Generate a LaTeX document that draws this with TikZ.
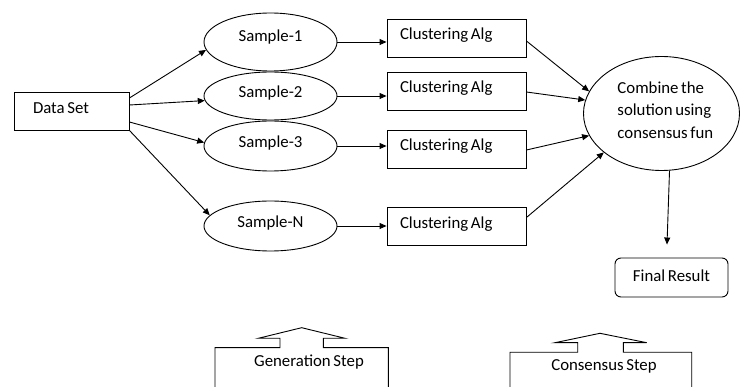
\documentclass[tikz,border=0pt]{standalone}
\usepackage{fontspec}
\setmainfont{Carlito}
\usetikzlibrary{shapes.geometric,arrows.meta}
\newcommand\diagfont{\fontsize{16.8}{19}\selectfont\spaceskip=0.16em plus 0.05em\relax}
\newcommand\diagfontwide{\fontsize{16.8}{22.5}\selectfont\spaceskip=0.16em plus 0.05em\relax}
\newcommand\tightspace{\spaceskip=0.16em plus 0.05em\relax}

\begin{document}
\begin{tikzpicture}[x=1pt,y=-1pt,line width=0.9pt,
  every node/.style={font=\diagfont},
  box/.style={draw,rectangle,inner ysep=0pt,align=left,text height=12pt,text depth=8pt,
    execute at begin node=\tightspace},
  samp/.style={draw,ellipse,inner sep=0pt,minimum width=133pt,text height=12pt,text depth=9pt},
  arr/.style={-{Triangle[length=7pt,width=6pt]}}]
\useasboundingbox (0,0) rectangle (740,387);

% input
\node[box,text width=77pt,inner xsep=19pt,minimum height=38pt,text depth=7.6pt] (ds) at (71.5,111) {Data Set};

% samples
\node[samp,minimum height=58pt,text depth=13pt] (s1) at (270.5,42) {Sample-1};
\node[samp,minimum height=48pt] (s2) at (270.5,96) {Sample-2};
\node[samp,minimum height=50pt] (s3) at (270.5,146) {Sample-3};
\node[samp,minimum height=50pt] (sN) at (270.5,226) {Sample-N};

% clustering
\node[box,text width=113pt,inner xsep=13pt,minimum height=38pt] (c1) at (456.5,38) {Clustering Alg};
\node[box,text width=113pt,inner xsep=13pt,minimum height=38pt] (c2) at (456.5,91) {Clustering Alg};
\node[box,text width=113pt,inner xsep=13pt,minimum height=38pt] (c3) at (456.5,149) {Clustering Alg};
\node[box,text width=113pt,inner xsep=13pt,minimum height=38pt] (c4) at (456.5,226.5) {Clustering Alg};

% consensus function
\node[draw,ellipse,inner sep=0pt,minimum width=156pt,minimum height=114pt] (cm) at (661.5,113.5) {};
\node[align=left,anchor=north west,inner sep=0pt,font=\diagfontwide] (cmtext) at (617,81) {Combine the\\solution using\\consensus fun};

% result
\node[draw,rounded corners=6pt,minimum width=113pt,minimum height=39pt,text height=12pt,text depth=4pt] (fr) at (671.5,277.5) {Final Result};

% connectors
\draw[arr] ([yshift=13pt]ds.east) -- (s1.187);
\draw[arr] ([yshift=6pt]ds.east) -- (s2.184);
\draw[arr] ([yshift=-11pt]ds.east) -- (s3.177);
\draw[arr] (ds.south east) -- (sN.170);

\draw[arr] (s1.east) -- (s1.east -| c1.west);
\draw[arr] (s2.east) -- (s2.east -| c2.west);
\draw[arr] (s3.east) -- (s3.east -| c3.west);
\draw[arr] (sN.east) -- (sN.east -| c4.west);

\draw[arr] ([yshift=-3pt]c1.east) -- (cm.163);
\draw[arr] ([yshift=-1pt]c2.east) -- (cm.170);
\draw[arr] ([yshift=-1pt]c3.east) -- (cm.197);
\draw[arr] ([yshift=9pt]c4.east) -- (cm.214);

\draw[arr] (cm.278) -- ([xshift=-4.5pt,yshift=13pt]fr.north);

% step markers
\draw (215,388) -- (215,347.7) -- (280,347.7) -- (280,338.3) -- (258.3,338.3) -- (301.7,327.7)
  -- (345,338.3) -- (323.3,338.3) -- (323.3,347.7) -- (388.3,347.7) -- (388.3,388);
\node (gen) at (309,362) {Generation Step};

\draw (510,388) -- (510,352.3) -- (577.7,352.3) -- (577.7,342.7) -- (555,342.7) -- (600,333.3)
  -- (646.7,342.7) -- (623.3,342.7) -- (623.3,352.3) -- (691.7,352.3) -- (691.7,388);
\node (cons) at (604,366) {Consensus Step};
\end{tikzpicture}
\end{document}
